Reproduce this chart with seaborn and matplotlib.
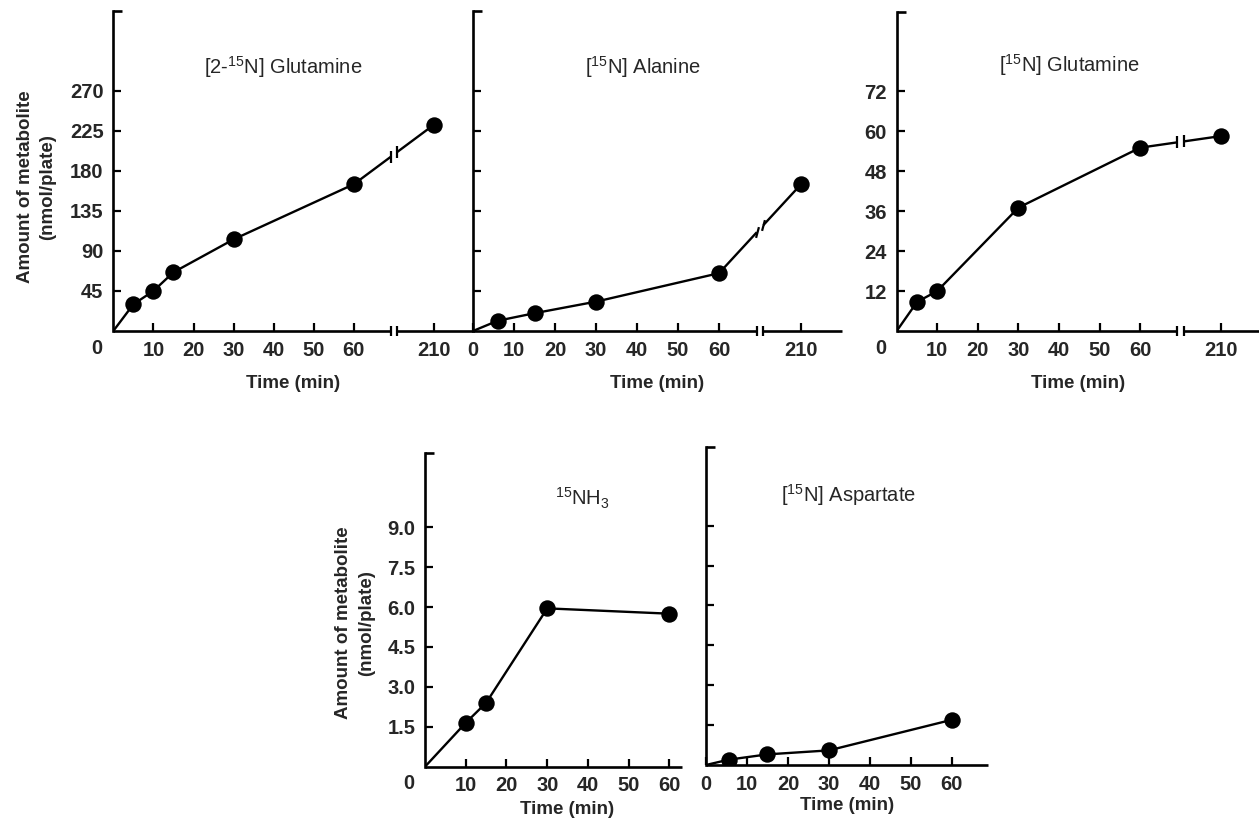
import numpy as np
import pandas as pd
import matplotlib
matplotlib.use("Agg")
import matplotlib.pyplot as plt
import seaborn as sns

sns.set_theme(style="ticks")
plt.rcParams["font.family"] = ["Liberation Sans", "DejaVu Sans"]
plt.rcParams["mathtext.default"] = "regular"

# =========================
# DATA
# =========================
glut2_time = [0, 5, 10, 15, 30, 60, 210]
glut2_amount = [0, 30, 45, 66, 103, 165, 232]

ala_time = [0, 6, 15, 30, 60, 210]
ala_amount = [0, 11.5, 20, 33, 65, 165]

glut_time = [0, 5, 10, 30, 60, 210]
glut_amount = [0, 8.7, 12, 37, 55, 58.5]

nh3_time = [0, 10, 15, 30, 60]
nh3_amount = [0, 1.65, 2.4, 5.95, 5.75]

asp_time = [0, 5.5, 15, 30, 60]
asp_amount = [0, 0.2, 0.4, 0.55, 1.7]

titles = [r"[2-$^{15}$N] Glutamine", r"[$^{15}$N] Alanine", r"[$^{15}$N] Glutamine",
          r"$^{15}$NH$_3$", r"[$^{15}$N] Aspartate"]

yticks_top = [45, 90, 135, 180, 225, 270]
yticks_glut = [12, 24, 36, 48, 60, 72]
yticks_low = [1.5, 3.0, 4.5, 6.0, 7.5, 9.0]
xticks_short = [10, 20, 30, 40, 50, 60]
xticks_long = [10, 20, 30, 40, 50, 60, 210]

W, H = 1259, 822
fig = plt.figure(figsize=(W / 100, H / 100), dpi=100)

TICK_FS = 14.5
LAB_FS = 13.5


def to_pos(t):
    # broken time axis: 0-60 linear, 210 drawn at position 80
    t = np.asarray(t, dtype=float)
    return np.where(t <= 60, t, 80 + (t - 210) * 0.5)


def add_ax(left, right, top, bottom):
    return fig.add_axes([left / W, 1 - bottom / H, (right - left) / W, (bottom - top) / H])


def panel(ax, time, amount, xmax, ymax, yticks, ylabels, xticks, broken, zero_on_axis):
    df = pd.DataFrame({"pos": to_pos(time), "amount": amount, "time": time})
    sns.lineplot(data=df, x="pos", y="amount", ax=ax, color="black", lw=1.7,
                 sort=False, estimator=None)
    sns.scatterplot(data=df[df["time"] > 0], x="pos", y="amount", ax=ax, color="black",
                    s=140, edgecolor="black", linewidth=0, zorder=5)
    ax.set_xlim(0, xmax)
    ax.set_ylim(0, ymax)
    for s in ["top", "right", "bottom"]:
        ax.spines[s].set_visible(False)
    ax.spines["left"].set_linewidth(1.9)
    ax.spines["left"].set_color("black")
    # small flag at top of y axis
    ax.plot([0, 2.2], [ymax, ymax], color="black", lw=1.9, clip_on=False,
            solid_capstyle="butt")

    if broken:
        b1, b2 = 69.2, 70.8
        ax.plot([0, b1], [0, 0], color="black", lw=1.9, clip_on=False, solid_capstyle="butt")
        ax.plot([b2, xmax], [0, 0], color="black", lw=1.9, clip_on=False, solid_capstyle="butt")
        ax.plot([b1, b2], [0, 0], ls="none", marker="|", ms=7, mew=1.6, color="black",
                clip_on=False)
        # break on the data line
        pos = to_pos(time)
        y1 = np.interp(b1, pos, amount)
        y2 = np.interp(b2, pos, amount)
        ax.plot([b1, b2], [y1, y2], color="white", lw=4, zorder=3, solid_capstyle="butt")
        ang = -15 if broken == "slant" else 0
        ax.plot([b1, b2], [y1, y2], ls="none", marker=(2, 0, ang), ms=8, mew=1.6,
                color="black", zorder=4)
    else:
        ax.plot([0, xmax], [0, 0], color="black", lw=1.9, clip_on=False, solid_capstyle="butt")

    ax.set_yticks(yticks)
    if ylabels:
        ax.set_yticklabels([f"{v:g}" if isinstance(v, int) else f"{v:.1f}" for v in yticks])
    else:
        ax.set_yticklabels([])
    xt = list(xticks)
    xl = [str(v) for v in xticks]
    if zero_on_axis:
        xt = [0] + xt
        xl = ["0"] + xl
    ax.set_xticks(to_pos(xt))
    ax.set_xticklabels(xl)
    ax.tick_params(axis="both", direction="in", length=6, width=1.6, color="black",
                   labelsize=TICK_FS, pad=7)
    for lab in ax.get_xticklabels() + ax.get_yticklabels():
        lab.set_fontweight("bold")
    if not zero_on_axis:
        ax.annotate("0", xy=(0, 0), xycoords="data", xytext=(-16, -17),
                    textcoords="offset pixels", ha="center", va="center",
                    fontsize=TICK_FS, fontweight="bold", annotation_clip=False)
    ax.set_xlabel("Time (min)", fontsize=LAB_FS, fontweight="bold", labelpad=11)
    ax.set_ylabel("")


ax1 = add_ax(113.3, 473, 10.7, 331)
panel(ax1, glut2_time, glut2_amount, 89.7, 360, yticks_top, True, xticks_long, "straight", False)
ax2 = add_ax(473, 841.7, 10.7, 331)
panel(ax2, ala_time, ala_amount, 89.9, 360, yticks_top, False, xticks_long, "slant", True)
ax3 = add_ax(896.7, 1259, 11.7, 331)
panel(ax3, glut_time, glut_amount, 89.3, 95.8, yticks_glut, True, xticks_long, "straight", False)
ax4 = add_ax(425, 681.7, 452.7, 766.7)
panel(ax4, nh3_time, nh3_amount, 63, 11.8, yticks_low, True, xticks_short, None, False)
ax5 = add_ax(706, 988.3, 447.3, 765)
panel(ax5, asp_time, asp_amount, 68.9, 11.95, yticks_low, False, xticks_short, None, True)

ax4.xaxis.set_label_coords(0.555, -0.11)
ax5.xaxis.set_label_coords(0.5, -0.1)

for ax in (ax1, ax4):
    ax.set_ylabel("Amount of metabolite\n(nmol/plate)", fontsize=LAB_FS, fontweight="bold",
                  linespacing=1.45)
ax1.yaxis.set_label_coords(-0.158, 0.45)
ax4.yaxis.set_label_coords(-0.195, 0.458)

title_xy = [(283, 67), (643, 67), (1069, 65), (582, 498), (848, 495)]
for t, (x, y) in zip(titles, title_xy):
    fig.text(x / W, 1 - y / H, t, ha="center", va="center", fontsize=14.5)

plt.savefig("out.png", dpi=100)
